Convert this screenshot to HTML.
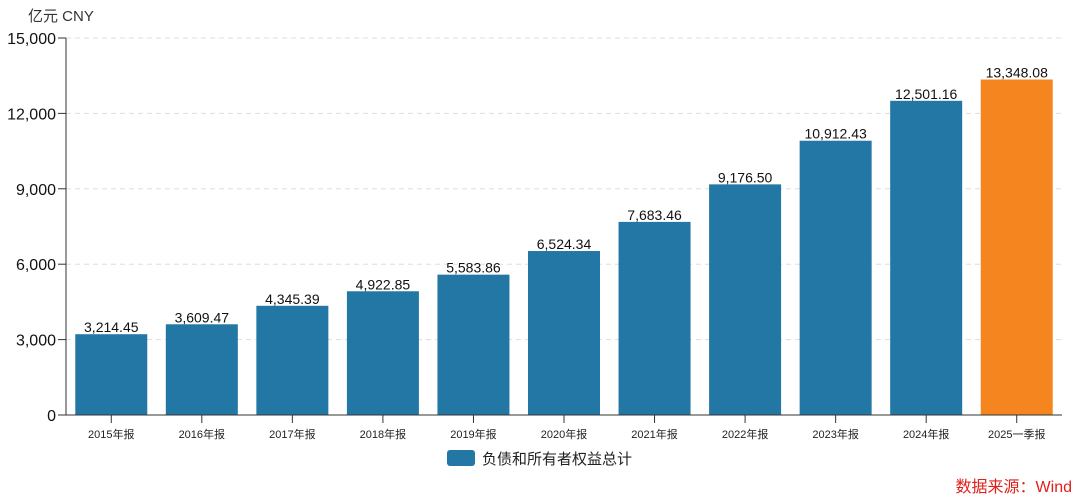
<!DOCTYPE html>
<html><head><meta charset="utf-8"><style>
body{margin:0;background:#fff;}
svg{display:block;font-family:"Liberation Sans","Noto Sans CJK SC",sans-serif;}
</style></head><body>
<svg id="c" width="1080" height="498">
<text x="28" y="21" font-size="15" fill="#333">亿元  CNY</text>
<g id="grid"></g><g id="bars"></g><g id="axes"></g>
<g>
<rect x="447" y="450" width="28" height="16" rx="3" fill="#2377a4"/>
<text x="482" y="464" font-size="15" fill="#222">负债和所有者权益总计</text>
</g>
<text x="1072" y="492" font-size="16" fill="#e0201b" text-anchor="end">数据来源：Wind</text>
</svg>
<script>
const categories=["2015年报","2016年报","2017年报","2018年报","2019年报","2020年报","2021年报","2022年报","2023年报","2024年报","2025一季报"];
const values=[3214.45,3609.47,4345.39,4922.85,5583.86,6524.34,7683.46,9176.50,10912.43,12501.16,13348.08];
const yTicks=[0,3000,6000,9000,12000,15000];
const NS="http://www.w3.org/2000/svg";
const x0=66,x1=1062,y0=415,yTop=38,yMax=15000;
const step=(x1-x0)/categories.length;
const bw=72;
function y(v){return y0-(v/yMax)*(y0-yTop);}
function xc(i){return x0+step*(i+0.5);}
function mk(t,a,p){const e=document.createElementNS(NS,t);for(const k in a)e.setAttribute(k,a[k]);p.appendChild(e);return e;}
const g=document.getElementById('grid'),b=document.getElementById('bars'),ax=document.getElementById('axes');
yTicks.forEach(v=>{
 if(v>0){const l=mk('line',{x1:x0,x2:x1,y1:y(v),y2:y(v),stroke:'#ddd','stroke-dasharray':'5,4'},g);
 
 }
 const t=mk('line',{x1:x0-8,x2:x0,y1:y(v),y2:y(v),stroke:'#333'},ax);
 
 
 const tx=mk('text',{x:x0-10,y:y(v)+6,'font-size':16,'text-anchor':'end',fill:'#111'},ax);
 tx.textContent=v.toLocaleString('en-US');
 
 
});
values.forEach((v,i)=>{
 const r=mk('rect',{x:xc(i)-bw/2,y:y(v),width:bw,height:y0-y(v),fill:i===values.length-1?'#f5861f':'#2377a4'},b);
 
 
 const t=mk('text',{x:xc(i),y:y(v)-2,'font-size':14,'text-anchor':'middle',fill:'#111'},b);
 t.textContent=v.toLocaleString('en-US',{minimumFractionDigits:2,maximumFractionDigits:2});
 
 
 const tk=mk('line',{x1:xc(i),x2:xc(i),y1:y0,y2:y0+8,stroke:'#333'},ax);
 
 
 const xl=mk('text',{x:xc(i),y:y0+23,'font-size':11,'text-anchor':'middle',fill:'#222'},ax);
 xl.textContent=categories[i];
 
 
});
const ya=mk('line',{x1:x0,x2:x0,y1:yTop,y2:y0,stroke:'#333'},ax);


const xa=mk('line',{x1:x0,x2:x1,y1:y0,y2:y0,stroke:'#333'},ax);


</script>
</body></html>
